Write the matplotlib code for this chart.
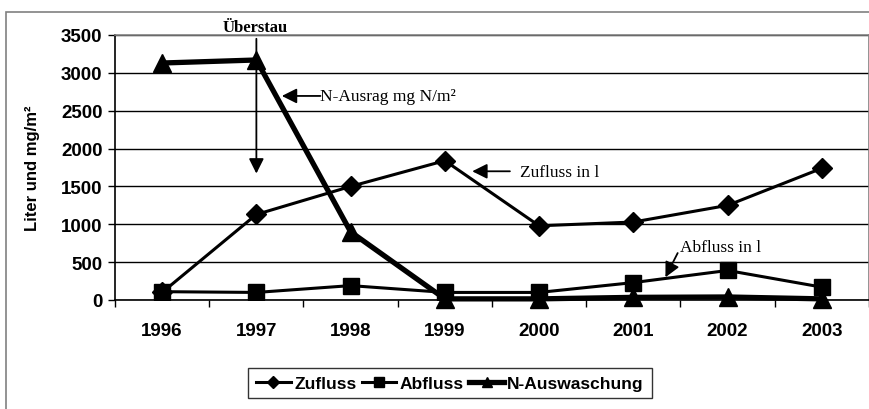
import matplotlib
matplotlib.use("Agg")
import matplotlib.pyplot as plt
from matplotlib.patches import Rectangle
from matplotlib.ticker import FixedLocator, NullFormatter

years = ["1996", "1997", "1998", "1999", "2000", "2001", "2002", "2003"]
zufluss = [100, 1130, 1500, 1840, 980, 1030, 1250, 1740]
abfluss = [110, 100, 190, 100, 100, 230, 390, 170]
n_auswaschung = [3130, 3170, 900, 15, 15, 35, 40, 15]
y_ticks = [0, 500, 1000, 1500, 2000, 2500, 3000, 3500]

plt.rcParams['font.family'] = ['Liberation Sans', 'DejaVu Sans']
W, H = 870, 410
fig = plt.figure(figsize=(W / 100, H / 100), dpi=100)
ax = fig.add_axes([115 / W, 1 - 301 / H, (869 - 115) / W, (301 - 36) / H])

# outer chart frame
fig.patches.append(Rectangle((6 / W, -0.1), 1.2, 1 - 13 / H + 0.1, transform=fig.transFigure,
                             fill=False, edgecolor='#808080', lw=1.2, zorder=0))

x = list(range(len(years)))
ax.plot(x, zufluss, color='black', lw=2.2, marker='D', ms=10.5, label='Zufluss', zorder=4)
ax.plot(x, abfluss, color='black', lw=2.2, marker='s', ms=11, label='Abfluss', zorder=4)
ax.plot(x, n_auswaschung, color='black', lw=3.8, marker='^', ms=13, label='N-Auswaschung', zorder=5,
        clip_on=False)

ax.set_xlim(-0.5, len(years) - 0.5)
ax.set_ylim(0, 3500)
ax.set_yticks(y_ticks)
ax.set_yticklabels([str(v) for v in y_ticks], fontsize=13.5, fontweight='bold')
ax.set_xticks(x)
ax.set_xticklabels(years, fontsize=13.5, fontweight='bold')
ax.tick_params(axis='x', which='major', length=0, pad=16)
ax.xaxis.set_minor_locator(FixedLocator([i - 0.5 for i in range(len(years) + 1)]))
ax.xaxis.set_minor_formatter(NullFormatter())
ax.tick_params(axis='x', which='minor', length=5, width=1, direction='out')
ax.tick_params(axis='y', length=5, width=1, direction='out', pad=4)
ax.grid(axis='y', color='black', lw=1)
ax.set_axisbelow(True)
for s in ['top', 'right']:
    ax.spines[s].set_color('#808080')
    ax.spines[s].set_linewidth(1.2)
for s in ['left', 'bottom']:
    ax.spines[s].set_color('black')
    ax.spines[s].set_linewidth(1.2)
ax.set_ylabel('Liter und mg/m²', fontsize=12, fontweight='bold', labelpad=15)

serif = ['Liberation Serif', 'DejaVu Serif']
ap = dict(arrowstyle='-|>,head_length=0.9,head_width=0.45', color='black', lw=1.3, shrinkA=0, shrinkB=0)
ax.text(0.985, 3610, 'Überstau', family=serif, fontsize=12, fontweight='bold', ha='center', va='center')
ax.annotate('', xy=(1.0, 1670), xytext=(1.0, 3450), arrowprops=ap)
ax.text(1.675, 2690, 'N-Ausrag mg N/m²', family=serif, fontsize=12.5, ha='left', va='center')
ax.annotate('', xy=(1.27, 2695), xytext=(1.68, 2695), arrowprops=ap)
ax.text(3.80, 1690, 'Zufluss in l', family=serif, fontsize=12.5, ha='left', va='center')
ax.annotate('', xy=(3.29, 1700), xytext=(3.69, 1700), arrowprops=ap)
ax.text(5.49, 700, 'Abfluss in l', family=serif, fontsize=12.5, ha='left', va='center')
ax.annotate('', xy=(5.34, 300), xytext=(5.47, 620), arrowprops=ap)

leg = ax.legend(loc='center', bbox_to_anchor=(450 / W, 1 - 384 / H), bbox_transform=fig.transFigure,
                ncol=3, frameon=True, fancybox=False, edgecolor='black',
                prop={'weight': 'bold', 'size': 12.5}, handlelength=2.0, handletextpad=0.2,
                columnspacing=0.3, borderpad=0.45, markerscale=0.6)
leg.get_frame().set_linewidth(1.0)

fig.savefig('out.png', dpi=100)
